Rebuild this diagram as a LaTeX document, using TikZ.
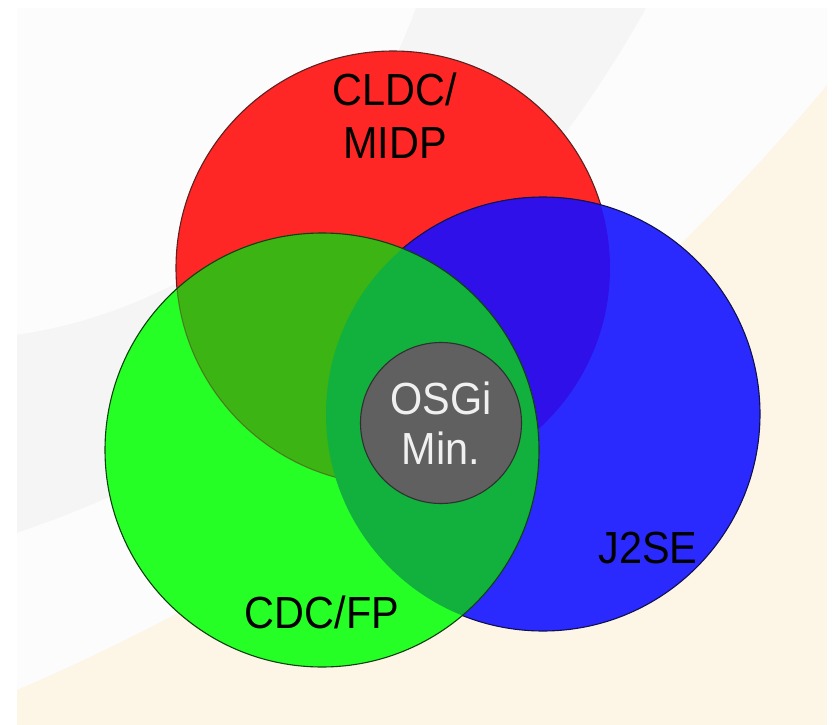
\documentclass[tikz,border=0pt]{standalone}
\usepackage{fontspec}
\setmainfont{Liberation Sans}
\newfontfamily\labfont[FakeStretch=0.92]{Liberation Sans}
\definecolor{pagec}{HTML}{FCFCFC}
\definecolor{creamc}{HTML}{FDF5E6}
\definecolor{bandc}{HTML}{F5F5F5}
\definecolor{redf}{HTML}{FF2626}
\definecolor{redo}{HTML}{602020}
\definecolor{bluef}{HTML}{2A2AFF}
\definecolor{blueo}{HTML}{101050}
\definecolor{purpf}{HTML}{3010E8}
\definecolor{greenf}{HTML}{26FF26}
\definecolor{greeno}{HTML}{104010}
\definecolor{olivef}{HTML}{3CB414}
\definecolor{tealf}{HTML}{12B03C}
\definecolor{osgif}{HTML}{606060}
\definecolor{osgio}{HTML}{303030}
\begin{document}
\begin{tikzpicture}[x=1pt,y=-1pt,
  outl/.style={line width=1.1pt},
  lab/.style={font=\labfont\fontsize{45}{53}\selectfont, inner sep=0pt, align=center, text=black},
  osginode/.style={circle, fill=osgif, draw=osgio, line width=1.1pt, minimum size=161pt, inner sep=0pt,
    align=center, text=white!94!black, font=\labfont\fontsize{45}{50}\selectfont}]
\useasboundingbox (0,0) rectangle (833,725);
\fill[white] (0,0) rectangle (833,725);
% background swooshes
\begin{scope}
  \clip (17,9) rectangle (827,725);
  \fill[creamc] (17,9) rectangle (827,725);
  \fill[pagec] (-834,-1296) circle[radius=2160pt];
  \fill[bandc] (-346,-542) circle[radius=1134pt];
  \fill[pagec] (-56,-161) circle[radius=501pt];
\end{scope}
% circle centres
\coordinate (cr) at (393,268);
\coordinate (cb) at (543,414);
\coordinate (cg) at (322,450);
\def\R{217pt}
% red
\fill[redf] (cr) circle[radius=\R];
\draw[redo, outl] (cr) circle[radius=\R];
% blue
\fill[bluef] (cb) circle[radius=\R];
\begin{scope}
  \clip (cr) circle[radius=\R];
  \fill[purpf] (cb) circle[radius=\R];
\end{scope}
\draw[blueo, outl] (cb) circle[radius=\R];
% green
\fill[greenf] (cg) circle[radius=\R];
\begin{scope}
  \clip (cg) circle[radius=\R];
  \fill[olivef] (cr) circle[radius=\R];
  \draw[redo, outl, opacity=0.45] (cr) circle[radius=\R];
  \fill[tealf] (cb) circle[radius=\R];
\end{scope}
\draw[greeno, outl] (cg) circle[radius=\R];
% centre
\node[osginode] (osgi) at (441,423) {OSGi\\Min.};
% labels
\node[lab] (cldc) at (395,115.5) {CLDC/\\MIDP};
\node[lab] (j2se) at (648,548.5) {J2SE};
\node[lab] (cdc) at (322,612.5) {CDC/FP};
\end{tikzpicture}
\end{document}
